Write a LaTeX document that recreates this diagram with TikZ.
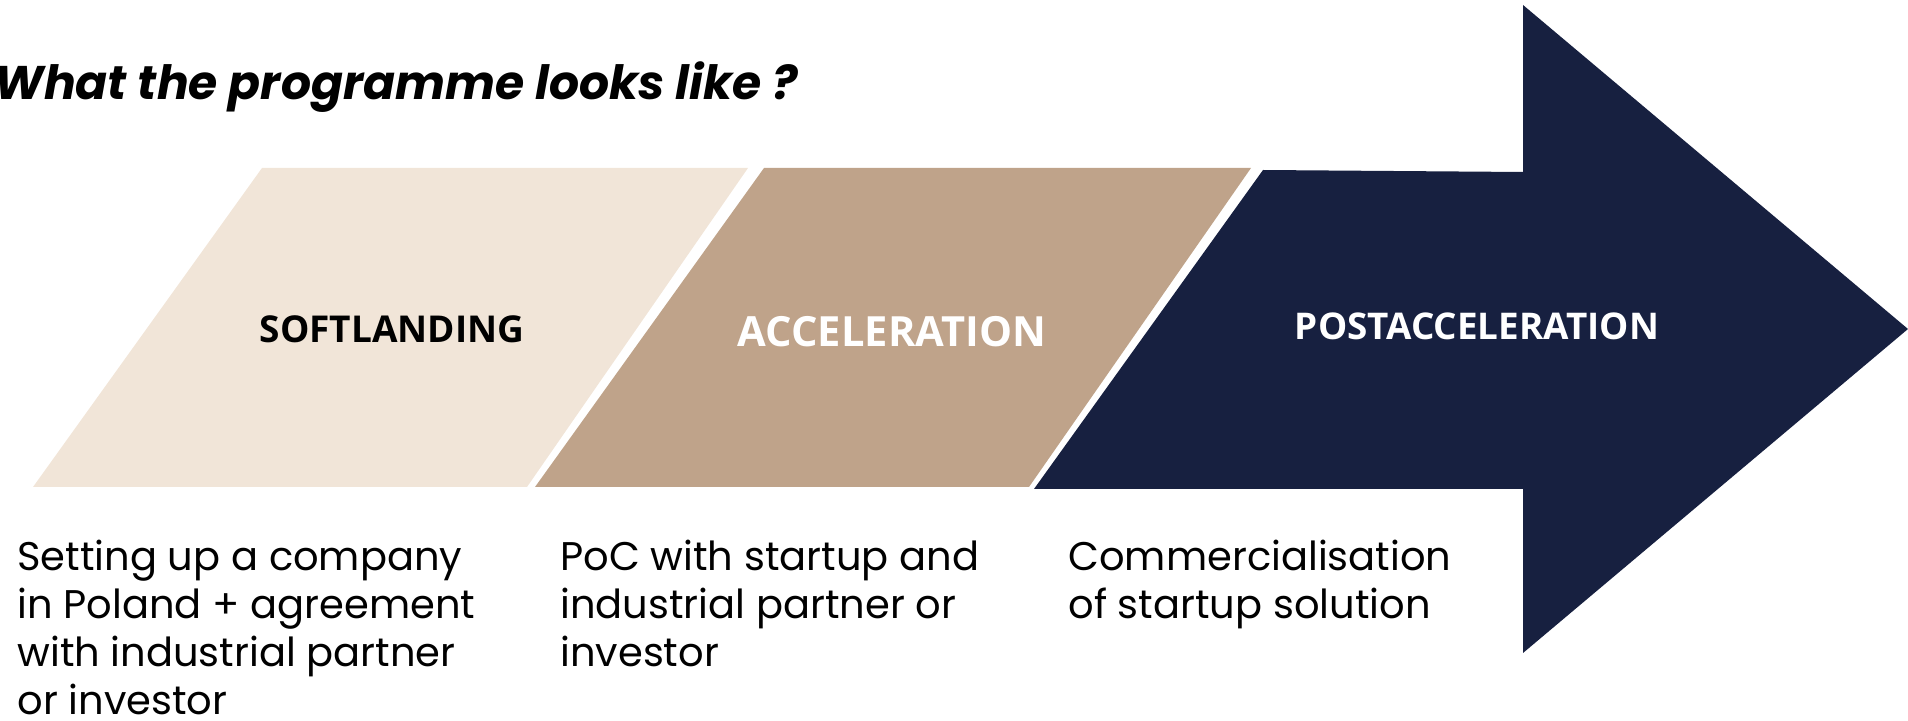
\documentclass[tikz,border=0pt]{standalone}
\usepackage{fontspec}
\setmainfont{Poppins}
\newfontfamily\stagefont{Open Sans}

\definecolor{sand}{RGB}{241,229,216}
\definecolor{tan}{RGB}{191,163,138}
\definecolor{navy}{RGB}{23,32,64}

\begin{document}
\begin{tikzpicture}[x=0.5pt,y=-0.5pt]
\useasboundingbox (0,0) rectangle (1908,721);

\coordinate (A1) at (262,168);
\coordinate (A2) at (748,168);
\coordinate (A3) at (527,487);
\coordinate (A4) at (33,487);

\coordinate (B1) at (764,168);
\coordinate (B2) at (1251,168);
\coordinate (B3) at (1029,487);
\coordinate (B4) at (535,487);

\coordinate (C1) at (1263,170);
\coordinate (C2) at (1523,172);
\coordinate (C3) at (1523,5);
\coordinate (C4) at (1908,329);
\coordinate (C5) at (1523,653);
\coordinate (C6) at (1523,489);
\coordinate (C7) at (1034,489);

\fill[sand] (A1) -- (A2) -- (A3) -- (A4) -- cycle;
\fill[tan] (B1) -- (B2) -- (B3) -- (B4) -- cycle;
\fill[navy] (C1) -- (C2) -- (C3) -- (C4) -- (C5) -- (C6) -- (C7) -- cycle;

\node[anchor=base west, inner sep=0] (title) at (-6,100)
  {\fontsize{23.6}{30}\selectfont\bfseries\itshape What the programme looks like ?};

\node[inner sep=0] (soft) at (392,329) {\stagefont\bfseries\fontsize{18.5}{20}\selectfont SOFTLANDING};
\node[inner sep=0, text=white] (accel) at (892,332) {\stagefont\bfseries\fontsize{20.8}{22}\selectfont ACCELERATION};
\node[inner sep=0, text=white] (post) at (1477,326) {\stagefont\bfseries\fontsize{18.4}{20}\selectfont POSTACCELERATION};

\node[anchor=north west, inner sep=0, align=left, font=\fontsize{20}{24}\selectfont] (softtxt) at (17,540)
  {Setting up a company\\in Poland + agreement\\with industrial partner\\or investor};
\node[anchor=north west, inner sep=0, align=left, font=\fontsize{20}{24}\selectfont] (acceltxt) at (560,540)
  {PoC with startup and\\industrial partner or\\investor};
\node[anchor=north west, inner sep=0, align=left, font=\fontsize{20}{24}\selectfont] (posttxt) at (1068,540)
  {Commercialisation\\of startup solution};
\end{tikzpicture}
\end{document}
